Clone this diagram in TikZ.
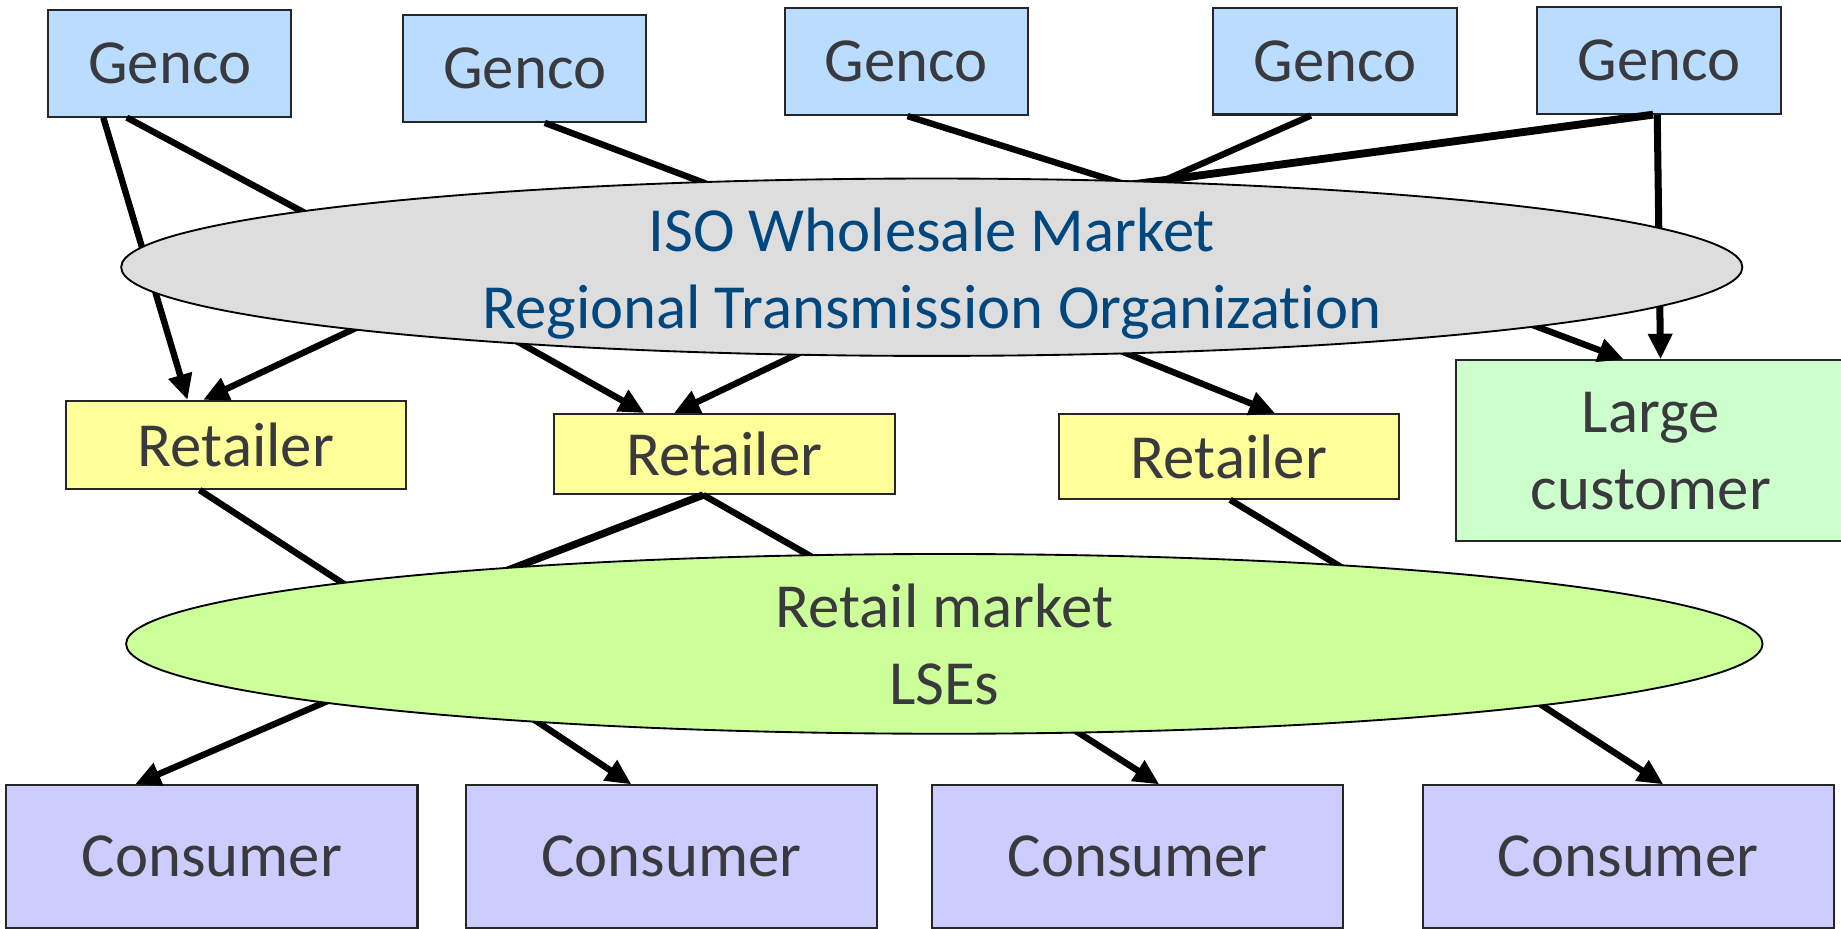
\documentclass[tikz,border=0pt]{standalone}
\usepackage{fontspec}
\setmainfont{Carlito}[Ligatures=NoCommon]
\usetikzlibrary{arrows.meta,calc,shapes.geometric}
\definecolor{ink}{HTML}{3A3A3E}
\definecolor{isoblue}{HTML}{00467F}
\definecolor{gencofill}{HTML}{B9DCFF}
\definecolor{retailfill}{HTML}{FFFF99}
\definecolor{bigfill}{HTML}{CCFFCC}
\definecolor{lsefill}{HTML}{CCFF99}
\definecolor{consumerfill}{HTML}{CCCCFF}
\definecolor{isofill}{HTML}{DDDDDD}
\begin{document}
\begin{tikzpicture}[x=0.01cm, y=-0.01cm,
  every node/.style={inner sep=0pt, text=ink, font=\fontsize{15.2}{18.7}\selectfont},
  box/.style={draw=black!85, line width=0.5pt, minimum width=#1},
  genco/.style={box=2.07cm, fill=gencofill, minimum height=0.91cm},
  retailer/.style={box=2.9cm, fill=retailfill, minimum height=0.72cm},
  consumer/.style={box=3.5cm, fill=consumerfill, minimum height=1.215cm},
  market/.style={ellipse, draw=black, line width=0.45pt},
  feed/.style={line width=1.55pt},
  flow/.style={feed, -{Triangle[length=6.2pt,width=5.6pt]}}]
\useasboundingbox (0,0) rectangle (1568,791);
\node[genco] (gen1) at (144.5,53.75) {Genco};
\node[genco] (gen2) at (447,58.25) {Genco};
\node[genco] (gen3) at (772,52.5) {Genco};
\node[genco] (gen4) at (1137,52) {Genco};
\node[genco] (gen5) at (1413,51.25) {Genco};
\node[retailer, minimum height=0.75cm] (ret1) at (201,379) {Retailer};
\node[retailer, minimum height=0.68cm] (ret2) at (617,386.7) {Retailer};
\node[retailer] (ret3) at (1046.7,388.8) {Retailer};
\node[box=3.32cm, fill=bigfill, minimum height=1.54cm, align=center] (big) at (1406,384) {Large\\customer};
\node[consumer] (con1) at (180.5,729.75) {Consumer};
\node[consumer] (con2) at (571.8,729.75) {Consumer};
\node[consumer] (con3) at (969,729.75) {Consumer};
\node[consumer] (con4) at (1386.7,729.75) {Consumer};
\coordinate (i1) at (330,219);
\coordinate (i2) at (340,262);
\coordinate (i3) at (680,186);
\coordinate (i4) at (400,268);
\coordinate (i5) at (720,282);
\coordinate (i6) at (1000,170);
\coordinate (i7) at (950,172);
\coordinate (i8) at (950,159);
\coordinate (i9) at (1250,256);
\coordinate (i10) at (910,281);
\coordinate (l1) at (340,528);
\coordinate (l2) at (390,502);
\coordinate (l3) at (740,502);
\coordinate (l4) at (1190,512);
\coordinate (l5) at (330,575);
\coordinate (l6) at (410,583);
\coordinate (l7) at (870,593);
\coordinate (l8) at (1260,566);
\draw[flow] ($(gen1.south)+(-56.5,0)$) -- ($(ret1.north)+(-41.3,0)$);
\draw[feed] ($(gen1.south)+(-36.5,0)$) -- (i1);
\draw[flow] (i2) -- ($(ret1.north)+(-28,0)$);
\draw[feed] ($(gen2.south)+(17,0)$) -- (i3);
\draw[flow] (i4) -- ($(ret2.north)+(-68,0)$);
\draw[flow] (i5) -- ($(ret2.north)+(-43,0)$);
\draw[feed] ($(gen3.south)+(1,0)$) -- (i6);
\draw[feed] ($(gen4.south)+(-20.5,0)$) -- (i7);
\draw[feed, line width=1.9pt] ($(gen5.south)+(-5,0)$) -- (i8);
\draw[flow, line width=1.7pt] ($(gen5.south)+(-1.5,0)$) -- ($(big.north)+(8.3,0)$);
\draw[flow] (i9) -- ($(big.north)+(-23,0)$);
\draw[flow] (i10) -- ($(ret3.north)+(39.3,0)$);
\draw[feed] ($(ret1.south)+(-31,0)$) -- (l1);
\draw[feed, line width=1.8pt] ($(ret2.south)+(-18,0)$) -- (l2);
\draw[feed] ($(ret2.south)+(-18,0)$) -- (l3);
\draw[feed] ($(ret3.south)+(1,0)$) -- (l4);
\draw[flow] (l5) -- ($(con1.north)+(-65.5,0)$);
\draw[flow] (l6) -- ($(con2.north)+(-34,0)$);
\draw[flow] (l7) -- ($(con3.north)+(18.4,0)$);
\draw[flow] (l8) -- ($(con4.north)+(30,0)$);
\node[market, fill=isofill, minimum width=13.8cm, minimum height=1.51cm] (iso) at (793.6,227.6) {};
\node[text=isoblue, align=center] (isolabel) at (793.6,233) {ISO Wholesale Market\\Regional Transmission Organization};
\node[market, fill=lsefill, minimum width=13.93cm, minimum height=1.53cm] (lse) at (804.3,548.4) {};
\node[align=center] (lselabel) at (804.3,549) {Retail market\\LSEs};
\end{tikzpicture}
\end{document}
